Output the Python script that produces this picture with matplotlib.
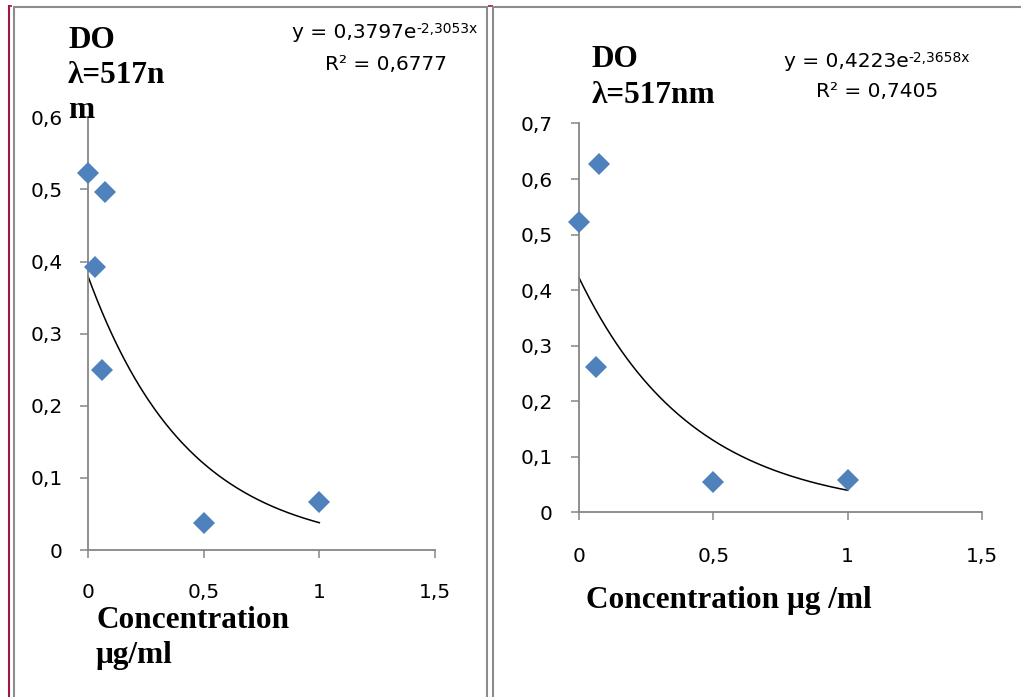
import numpy as np
import matplotlib
matplotlib.use("Agg")
import matplotlib.pyplot as plt
from matplotlib.lines import Line2D

# ---- data ----
left_x = [0.0, 0.075, 0.03, 0.0625, 0.5, 1.0]
left_y = [0.523, 0.496, 0.392, 0.250, 0.038, 0.066]
left_a, left_b = 0.3797, -2.3053
left_eq = "y = 0,3797e"
left_eq_exp = "-2,3053x"
left_r2 = "R² = 0,6777"

right_x = [0.0, 0.075, 0.062, 0.5, 1.0]
right_y = [0.523, 0.627, 0.262, 0.054, 0.059]
right_a, right_b = 0.4223, -2.3658
right_eq = "y = 0,4223e"
right_eq_exp = "-2,3658x"
right_r2 = "R² = 0,7405"

x_ticks = [0, 0.5, 1, 1.5]
x_ticklabels = ["0", "0,5", "1", "1,5"]
left_yticks = [0, 0.1, 0.2, 0.3, 0.4, 0.5, 0.6]
left_yticklabels = ["0", "0,1", "0,2", "0,3", "0,4", "0,5", "0,6"]
right_yticks = [0, 0.1, 0.2, 0.3, 0.4, 0.5, 0.6, 0.7]
right_yticklabels = ["0", "0,1", "0,2", "0,3", "0,4", "0,5", "0,6", "0,7"]

W, H = 1021, 697
fig = plt.figure(figsize=(W / 100, H / 100), dpi=100)

GRAY = "#868686"
BLUE = "#4F81BD"
TICKFONT = "DejaVu Sans"
SERIF = "Liberation Serif"
TFS = 14.5


def fx(x):
    return x / W


def fy(y):
    return 1 - y / H


def make_axes(x0, x1, y0, y1, ymax, yticks, yticklabels, xs, ys, a, b, ypad, xpad):
    ax = fig.add_axes([fx(x0), fy(y0), fx(x1 - x0), (y0 - y1) / H])
    ax.set_xlim(0, 1.5)
    ax.set_ylim(0, ymax)
    for s in ["top", "right"]:
        ax.spines[s].set_visible(False)
    for s in ["left", "bottom"]:
        ax.spines[s].set_color(GRAY)
        ax.spines[s].set_linewidth(1.3)
    ax.set_xticks(x_ticks)
    ax.set_xticklabels(x_ticklabels, fontsize=TFS, family=TICKFONT)
    ax.set_yticks(yticks)
    ax.set_yticklabels(yticklabels, fontsize=TFS, family=TICKFONT)
    ax.tick_params(axis="both", direction="out", length=5.8, width=1.1, color=GRAY)
    ax.tick_params(axis="y", pad=ypad)
    ax.tick_params(axis="x", pad=xpad)
    ax.patch.set_alpha(0)
    xx = np.linspace(0, 1, 200)
    ax.plot(xx, a * np.exp(b * xx), color="black", lw=1.1, clip_on=False)
    ax.plot(xs, ys, linestyle="none", marker="D", ms=11.5, mfc=BLUE, mec=BLUE,
            mew=0, clip_on=False, zorder=5)
    return ax


axL = make_axes(88, 435, 550, 550 - 6 * 72.1, 0.6, left_yticks, left_yticklabels,
                left_x, left_y, left_a, left_b, ypad=12.5, xpad=18)
axR = make_axes(579, 982, 512.3, 512.3 - 7 * 55.55, 0.7, right_yticks, right_yticklabels,
                right_x, right_y, right_a, right_b, ypad=13, xpad=19.5)


def eq_text(ax, x, y, main, exp):
    t = fig.text(fx(x), fy(y), main, fontsize=TFS, family=TICKFONT, va="baseline", ha="left")
    ax.annotate(exp, xy=(1, 0), xycoords=t, xytext=(0, 6.8), textcoords="offset points",
                fontsize=10, family=TICKFONT, va="baseline", ha="left", annotation_clip=False)


eq_text(axL, 292, 38, left_eq, left_eq_exp)
fig.text(fx(325), fy(70), left_r2, fontsize=TFS, family=TICKFONT, va="baseline")
eq_text(axR, 784, 67, right_eq, right_eq_exp)
fig.text(fx(816), fy(97), right_r2, fontsize=TFS, family=TICKFONT, va="baseline")

# titles
bold = dict(fontsize=22.5, family=SERIF, fontweight="bold", va="baseline", ha="left")
fig.text(fx(68), fy(48), "DO", **bold)
fig.text(fx(68), fy(83), "λ=517n", **bold)
fig.text(fx(68), fy(118), "m", **bold)
fig.text(fx(592), fy(67), "DO", **bold)
fig.text(fx(592), fy(103), "λ=517nm", **bold)

fig.text(fx(96), fy(628), "Concentration", **bold)
fig.text(fx(96), fy(663), "μg/ml", **bold)
fig.text(fx(586), fy(608), "Concentration μg /ml", **bold)

# borders
def hline(x0, x1, y, color, lw):
    fig.add_artist(Line2D([fx(x0), fx(x1)], [fy(y), fy(y)], color=color, lw=lw,
                          transform=fig.transFigure, solid_capstyle="butt"))


def vline(x, y0, y1, color, lw):
    fig.add_artist(Line2D([fx(x), fx(x)], [fy(y0), fy(y1)], color=color, lw=lw,
                          transform=fig.transFigure, solid_capstyle="butt"))


RED = "#9B1B3F"
BGRAY = "#8c8c8c"
vline(9, 5, H, RED, 1.5)
hline(8, 12, 5.5, RED, 1.2)
vline(13.5, 6, H, BGRAY, 1.5)
hline(12.5, 487, 6.5, BGRAY, 1.5)
hline(488, 493, 5.5, RED, 1.2)
hline(493, W, 6.5, BGRAY, 1.5)
vline(486.7, 6, H, BGRAY, 1.5)
vline(493, 6, H, BGRAY, 1.5)

fig.savefig("out.png", dpi=100)
